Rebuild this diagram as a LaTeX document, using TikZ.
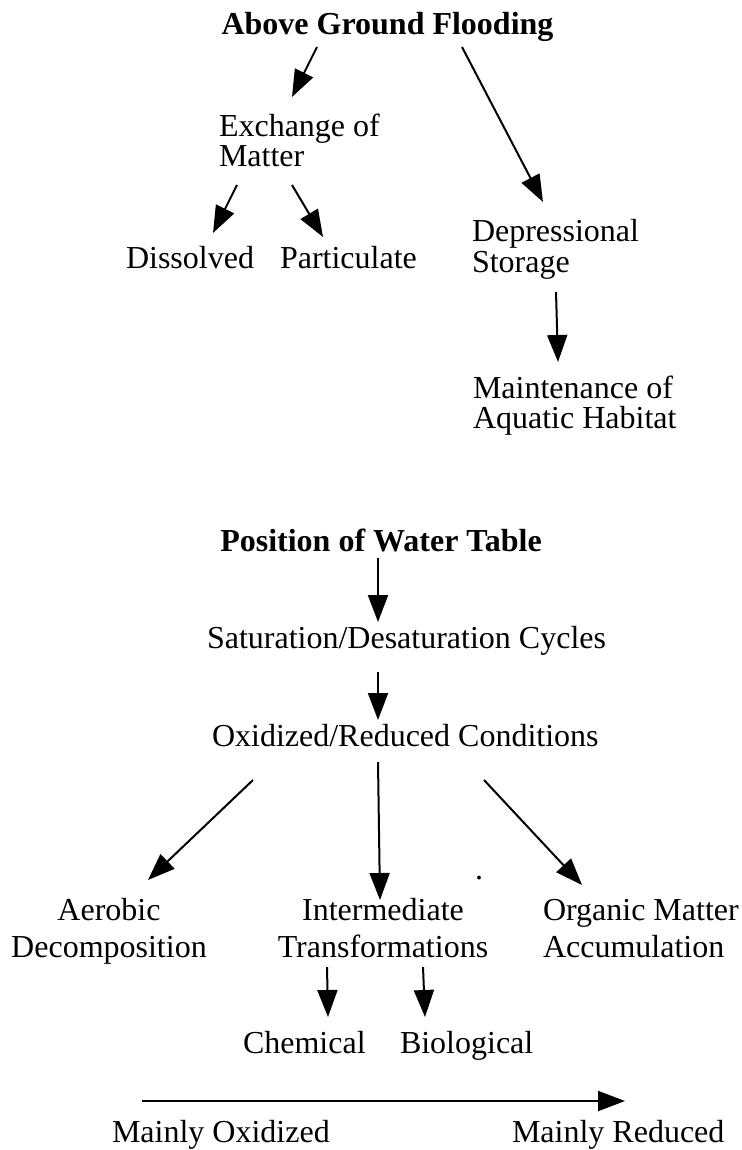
\documentclass[tikz,border=0pt]{standalone}
\usepackage{fontspec}
\setmainfont{Liberation Serif}
\usetikzlibrary{arrows.meta}
\begin{document}
\begin{tikzpicture}[x=1pt,y=-1pt,
  txt/.style={inner sep=0pt,outer sep=0pt,font=\fontsize{32}{30}\selectfont},
  txtb/.style={inner sep=0pt,outer sep=0pt,font=\fontsize{32}{37}\selectfont},
  ttl/.style={inner sep=0pt,outer sep=0pt,font=\fontsize{32}{30}\selectfont\bfseries},
  arr/.style={line width=2pt,-{Triangle[length=27pt,width=20pt]}}]
\useasboundingbox[fill=white] (0,0) rectangle (741,1150);
% top part
\node[ttl,anchor=base] (agf) at (387.5,35) {Above Ground Flooding};
\node[txt,anchor=base west,align=left] (exch) at (219,167) {Exchange of\\Matter};
\node[txt,anchor=base west] (diss) at (126,268) {Dissolved};
\node[txt,anchor=base west] (part) at (280,268) {Particulate};
\node[txt,anchor=base west,align=left] (dep) at (472,272) {Depressional\\Storage};
\node[txt,anchor=base west,align=left] (maint) at (473,428) {Maintenance of\\Aquatic Habitat};
\draw[arr] ([shift={(-70.5,12)}]agf.base) -- ([shift={(73,-70)}]exch.base west);
\draw[arr] ([shift={(74.5,12)}]agf.base) -- ([shift={(71,-70)}]dep.base west);
\draw[arr] ([shift={(18,18)}]exch.base west) -- ([shift={(87,-35)}]diss.base west);
\draw[arr] ([shift={(73,18)}]exch.base west) -- ([shift={(43,-31)}]part.base west);
\draw[arr] ([shift={(84,20)}]dep.base west) -- ([shift={(85,-66)}]maint.base west);
% bottom part
\node[ttl,anchor=base] (pwt) at (381,551) {Position of Water Table};
\node[txt,anchor=base west] (sat) at (207,648) {Saturation/Desaturation Cycles};
\node[txt,anchor=base west] (oxr) at (212,746) {Oxidized/Reduced Conditions};
\node[txtb,anchor=base,align=center] (aer) at (109,957) {Aerobic\\Decomposition};
\node[txtb,anchor=base,align=center] (int) at (383,957) {Intermediate\\Transformations};
\node[txtb,anchor=base west,align=left] (org) at (543,957) {Organic Matter\\Accumulation};
\node[txt,anchor=center] (dot) at (479,878) {.};
\node[txt,anchor=base west] (chem) at (243,1053) {Chemical};
\node[txt,anchor=base west] (bio) at (400,1053) {Biological};
\node[txt,anchor=base west] (mox) at (112,1142) {Mainly Oxidized};
\node[txt,anchor=base west] (mred) at (512,1142) {Mainly Reduced};
\draw[arr] ([shift={(-3,7)}]pwt.base) -- ([shift={(171,-26)}]sat.base west);
\draw[arr] ([shift={(171,24)}]sat.base west) -- ([shift={(166,-26)}]oxr.base west);
\draw[arr] ([shift={(41,34)}]oxr.base west) -- ([shift={(39,-77)}]aer.base);
\draw[arr] ([shift={(166,16)}]oxr.base west) -- ([shift={(-3,-57)}]int.base);
\draw[arr] ([shift={(272,34)}]oxr.base west) -- ([shift={(39,-72)}]org.base west);
\draw[arr] ([shift={(-56,10)}]int.base) -- ([shift={(85,-36)}]chem.base west);
\draw[arr] ([shift={(40,10)}]int.base) -- ([shift={(25,-36)}]bio.base west);
\draw[arr] ([shift={(30,-41)}]mox.base west) -- ([shift={(113,-41)}]mred.base west);
\end{tikzpicture}
\end{document}
